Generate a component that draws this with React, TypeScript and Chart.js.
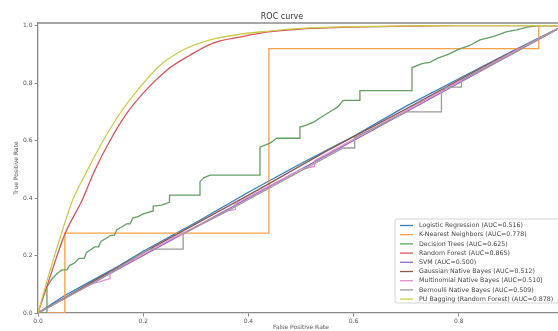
import React, { useEffect, useRef } from 'react';
import { Chart, registerables } from 'chart.js';

Chart.register(...registerables);

const FONT = 'DejaVu Sans';

// ---- Data ----
const seriesNames = [
  'Logistic Regression (AUC=0.516)',
  'K-Nearest Neighbors (AUC=0.778)',
  'Decision Trees (AUC=0.625)',
  'Random Forest (AUC=0.865)',
  'SVM (AUC=0.500)',
  'Gaussian Native Bayes (AUC=0.512)',
  'Multinomial Native Bayes (AUC=0.510)',
  'Bernoulli Native Bayes (AUC=0.509)',
  'PU Bagging (Random Forest) (AUC=0.878)',
];
const seriesColors = [
  '#2f7fbf', '#f5a04a', '#62a062', '#d8525c', '#9467bd',
  '#8c564b', '#e08ccc', '#9a9a9a', '#c9cc48',
];

const logisticFpr = [0, 0.05, 0.1, 0.15, 0.2, 0.3, 0.4, 0.5, 0.6, 0.7, 0.8, 0.9, 1];
const logisticTpr = [0, 0.06, 0.11, 0.16, 0.215, 0.315, 0.42, 0.52, 0.615, 0.72, 0.815, 0.91, 1];

const knnFpr = [0, 0.051, 0.051, 0.439, 0.439, 0.952, 0.952, 1];
const knnTpr = [0, 0, 0.278, 0.278, 0.92, 0.92, 1, 1];

const treeFpr = [0, 0.017, 0.017, 0.025, 0.035, 0.045, 0.055, 0.06, 0.07, 0.078, 0.088, 0.092, 0.1, 0.108, 0.115, 0.12, 0.13, 0.138, 0.145, 0.15, 0.16, 0.168, 0.175, 0.18, 0.19, 0.2, 0.219, 0.219, 0.235, 0.25, 0.25, 0.308, 0.308, 0.315, 0.327, 0.422, 0.422, 0.44, 0.454, 0.498, 0.498, 0.51, 0.525, 0.539, 0.555, 0.57, 0.58, 0.612, 0.612, 0.711, 0.711, 0.73, 0.745, 0.76, 0.78, 0.8, 0.82, 0.84, 0.865, 0.89, 0.91, 0.93, 0.952, 1];
const treeTpr = [0, 0, 0.09, 0.115, 0.135, 0.15, 0.15, 0.165, 0.175, 0.19, 0.19, 0.21, 0.22, 0.23, 0.23, 0.25, 0.26, 0.27, 0.27, 0.29, 0.3, 0.31, 0.31, 0.33, 0.335, 0.345, 0.355, 0.372, 0.375, 0.385, 0.41, 0.41, 0.457, 0.47, 0.48, 0.48, 0.577, 0.59, 0.608, 0.608, 0.647, 0.654, 0.665, 0.682, 0.7, 0.717, 0.74, 0.74, 0.774, 0.774, 0.854, 0.868, 0.872, 0.887, 0.9, 0.918, 0.93, 0.95, 0.962, 0.978, 0.985, 0.995, 1, 1];

const forestFpr = [0, 0.02, 0.05, 0.084, 0.108, 0.137, 0.169, 0.2, 0.245, 0.289, 0.333, 0.384, 0.434, 0.5, 0.6, 0.7, 0.8, 1];
const forestTpr = [0, 0.11, 0.27, 0.393, 0.497, 0.6, 0.695, 0.765, 0.845, 0.897, 0.939, 0.96, 0.977, 0.988, 0.995, 0.998, 1, 1];

const svmFpr = [0, 1];
const svmTpr = [0, 1];

const gaussianFpr = [0, 0.1, 0.2, 0.3, 0.42, 0.55, 0.7, 0.85, 1];
const gaussianTpr = [0, 0.105, 0.21, 0.31, 0.43, 0.565, 0.71, 0.86, 1];

const multinomialFpr = [0, 0.1, 0.137, 0.137, 0.25, 0.36, 0.375, 0.375, 0.5, 0.526, 0.526, 0.65, 0.8, 0.9, 1];
const multinomialTpr = [0, 0.1, 0.12, 0.14, 0.255, 0.355, 0.36, 0.38, 0.5, 0.51, 0.53, 0.655, 0.805, 0.905, 1];

const bernoulliFpr = [0, 0.12, 0.21, 0.276, 0.276, 0.36, 0.58, 0.602, 0.602, 0.7, 0.767, 0.767, 0.775, 0.805, 0.805, 0.9, 1];
const bernoulliTpr = [0, 0.12, 0.222, 0.222, 0.275, 0.355, 0.574, 0.574, 0.61, 0.7, 0.7, 0.765, 0.786, 0.786, 0.81, 0.9, 1];

const puFpr = [0, 0.02, 0.04, 0.066, 0.094, 0.124, 0.156, 0.194, 0.232, 0.276, 0.327, 0.384, 0.434, 0.5, 0.6, 0.7, 0.8, 1];
const puTpr = [0, 0.13, 0.25, 0.393, 0.497, 0.6, 0.695, 0.786, 0.862, 0.915, 0.95, 0.97, 0.98, 0.99, 0.996, 0.999, 1, 1];

const xTicks = [0, 0.2, 0.4, 0.6, 0.8, 1.0];
const yTicks = [0, 0.2, 0.4, 0.6, 0.8, 1.0];
const xTickLabels = ['0.0', '0.2', '0.4', '0.6', '0.8', '1.0'];
const yTickLabels = ['0.0', '0.2', '0.4', '0.6', '0.8', '1.0'];

const seriesFpr = [logisticFpr, knnFpr, treeFpr, forestFpr, svmFpr, gaussianFpr, multinomialFpr, bernoulliFpr, puFpr];
const seriesTpr = [logisticTpr, knnTpr, treeTpr, forestTpr, svmTpr, gaussianTpr, multinomialTpr, bernoulliTpr, puTpr];
const smoothSeries = [3, 8];

const FRAME = '#8a8a8a';
const TEXT = '#555';

const framePlugin = {
  id: 'frameAndLegend',
  afterDatasetsDraw(chart: any) {
    const { ctx, chartArea: a } = chart;
    ctx.save();
    ctx.strokeStyle = FRAME;
    ctx.lineWidth = 1.3;
    ctx.beginPath();
    ctx.moveTo(a.left, a.top);
    ctx.lineTo(a.right, a.top);
    ctx.lineTo(a.right, a.bottom);
    ctx.stroke();
    ctx.restore();
  },
  afterDraw(chart: any) {
    const { ctx, chartArea: a } = chart;
    const xs = chart.scales.x;
    const ys = chart.scales.y;
    ctx.save();
    // tick labels
    ctx.font = `6px "${FONT}"`;
    ctx.fillStyle = TEXT;
    ctx.textAlign = 'center';
    ctx.textBaseline = 'top';
    xTicks.forEach((v, i) => {
      ctx.fillText(xTickLabels[i], xs.getPixelForValue(v), a.bottom + 5);
    });
    ctx.textAlign = 'right';
    ctx.textBaseline = 'middle';
    yTicks.forEach((v, i) => {
      ctx.fillText(yTickLabels[i], a.left - 5.5, ys.getPixelForValue(v));
    });

    // legend
    const boxX = a.left + 357;
    const boxY = a.top + 196;
    const boxW = 180;
    const boxH = 84;
    ctx.textAlign = 'left';
    ctx.fillStyle = 'rgba(255,255,255,0.85)';
    ctx.strokeStyle = '#d4d4d4';
    ctx.lineWidth = 1;
    ctx.beginPath();
    if ((ctx as any).roundRect) (ctx as any).roundRect(boxX, boxY, boxW, boxH, 2);
    else ctx.rect(boxX, boxY, boxW, boxH);
    ctx.fill();
    ctx.stroke();
    ctx.font = `6.3px "${FONT}"`;
    ctx.textBaseline = 'middle';
    seriesNames.forEach((name, i) => {
      const y = boxY + 6.5 + i * 9.2;
      ctx.strokeStyle = seriesColors[i];
      ctx.lineWidth = 1.3;
      ctx.beginPath();
      ctx.moveTo(boxX + 5, y);
      ctx.lineTo(boxX + 18, y);
      ctx.stroke();
      ctx.fillStyle = '#444';
      ctx.fillText(name, boxX + 24, y);
    });
    ctx.restore();
  },
};

export default function App() {
  const canvasRef = useRef<HTMLCanvasElement | null>(null);

  useEffect(() => {
    if (!canvasRef.current) return;
    const n = seriesNames.length;
    const datasets = seriesNames.map((name, i) => ({
      label: name,
      data: seriesFpr[i].map((x, k) => ({ x, y: seriesTpr[i][k] })),
      borderColor: seriesColors[i],
      backgroundColor: seriesColors[i],
      borderWidth: 1.3,
      pointRadius: 0,
      fill: false,
      order: n - i,
      cubicInterpolationMode: smoothSeries.includes(i) ? 'monotone' : 'default',
      tension: 0,
    }));

    const chart = new Chart(canvasRef.current, {
      type: 'line',
      data: { datasets } as any,
      plugins: [framePlugin],
      options: {
        animation: false,
        responsive: true,
        maintainAspectRatio: false,
        layout: { padding: { left: 0, top: 0, right: 16, bottom: 0 } },
        plugins: {
          legend: { display: false },
          tooltip: { enabled: false },
          title: {
            display: true,
            text: 'ROC curve',
            color: '#333',
            font: { family: FONT, size: 8, weight: 'normal' },
            padding: { top: 12, bottom: 1.4 },
          },
        },
        scales: {
          x: {
            type: 'linear',
            min: 0,
            max: 1,
            afterBuildTicks: (s: any) => { s.ticks = xTicks.map((v) => ({ value: v })); },
            afterFit: (s: any) => { s.height = 18; },
            ticks: { display: false },
            grid: { display: true, drawOnChartArea: false, drawTicks: true, tickLength: 3.5, color: FRAME, lineWidth: 1 },
            border: { display: true, color: FRAME, width: 1.3 },
            title: {
              display: true,
              text: 'False Positive Rate',
              color: TEXT,
              font: { family: FONT, size: 6 },
              padding: { top: 0, bottom: 0.4 },
            },
          },
          y: {
            type: 'linear',
            min: 0,
            max: 1.009,
            afterBuildTicks: (s: any) => { s.ticks = yTicks.map((v) => ({ value: v })); },
            afterFit: (s: any) => { s.width = 38; },
            ticks: { display: false },
            grid: { display: true, drawOnChartArea: false, drawTicks: true, tickLength: 3.5, color: FRAME, lineWidth: 1 },
            border: { display: true, color: FRAME, width: 1.3 },
            title: {
              display: true,
              text: 'True Positive Rate',
              color: TEXT,
              font: { family: FONT, size: 6 },
              padding: { top: 12.4, bottom: 0 },
            },
          },
        },
      } as any,
    });
    return () => chart.destroy();
  }, []);

  return (
    <div style={{ position: 'fixed', left: 0, top: 0, width: '558px', height: '331px', overflow: 'hidden', background: '#fff' }}>
      <div style={{ position: 'absolute', left: 0, top: 0, width: '580px', height: '331px' }}>
        <canvas ref={canvasRef} />
      </div>
    </div>
  );
}
